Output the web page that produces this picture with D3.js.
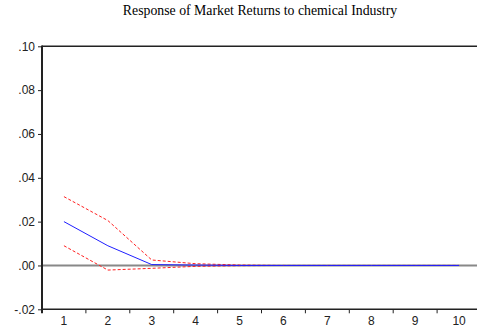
<!DOCTYPE html>
<html><head><meta charset="utf-8">
<script src="https://cdn.jsdelivr.net/npm/d3@7"></script>
<style>body{margin:0;background:#fff}svg{display:block}</style>
</head><body>
<svg id="c" width="477" height="335"></svg>
<script>
const periods = [1,2,3,4,5,6,7,8,9,10];
const response = [0.0200, 0.0090, 0.0004, 0.0002, 0.0000, 0.0000, 0.0000, 0.0000, 0.0000, 0.0000];
const upperBand = [0.0314, 0.0205, 0.0025, 0.0008, 0.0002, 0.0000, 0.0000, 0.0000, 0.0000, 0.0000];
const lowerBand = [0.0090, -0.0021, -0.0013, -0.0004, -0.0001, 0.0000, 0.0000, 0.0000, 0.0000, 0.0000];
const yTicks = [-0.02, 0.00, 0.02, 0.04, 0.06, 0.08, 0.10];
const yTickLabels = ["-.02", ".00", ".02", ".04", ".06", ".08", ".10"];
const title = "Response of Market Returns to chemical Industry";

(function(){
const svg = d3.select("#c");
const mL = 42, mR = 481, mT = 46.3, mB = 309.3;
const x = d3.scaleBand().domain(periods).range([mL, mR]);
const y = d3.scaleLinear().domain([-0.02, 0.10]).range([mB, mT]);
const cx = d => x(d) + x.bandwidth()/2;

svg.append("text").attr("x", 260).attr("y", 15).attr("text-anchor", "middle")
  .attr("font-family", "Liberation Serif, Times New Roman, serif").attr("font-size", 13.8)
  .attr("fill", "#000").text(title);

svg.append("line").attr("x1", mL).attr("x2", 477).attr("y1", y(0)).attr("y2", y(0))
  .attr("stroke", "#888").attr("stroke-width", 2);

svg.append("line").attr("x1", mL).attr("x2", 477).attr("y1", y(0.10)).attr("y2", y(0.10))
  .attr("stroke", "#222").attr("stroke-width", 1.5);

const yAxis = d3.axisLeft(y).tickValues(yTicks).tickFormat((d,i) => yTickLabels[i]).tickSize(4).tickPadding(3);
const ga = svg.append("g").attr("transform", `translate(${mL},0)`).call(yAxis);
ga.select(".domain").remove();
ga.selectAll("line").attr("stroke", "#222");
ga.selectAll("text").attr("font-family", "Liberation Sans, Arial, sans-serif").attr("font-size", 12).attr("fill", "#222");
svg.append("line").attr("x1", mL).attr("x2", mL).attr("y1", mT - 0.75).attr("y2", mB + 4)
  .attr("stroke", "#222").attr("stroke-width", 2);

const xAxis = d3.axisBottom(x).tickSize(0).tickPadding(7);
const gx = svg.append("g").attr("transform", `translate(0,${mB})`).call(xAxis);
gx.select(".domain").remove();
gx.selectAll("text").attr("font-family", "Liberation Sans, Arial, sans-serif").attr("font-size", 12).attr("fill", "#222");
svg.append("line").attr("x1", mL).attr("x2", 477).attr("y1", mB).attr("y2", mB)
  .attr("stroke", "#222").attr("stroke-width", 1.5);
svg.selectAll(".xb").data(periods.slice(1)).enter().append("line")
  .attr("x1", d => x(d)).attr("x2", d => x(d)).attr("y1", mB).attr("y2", mB + 4)
  .attr("stroke", "#222").attr("stroke-width", 1);

const line = d3.line().x((d,i) => cx(periods[i])).y(d => y(d));
svg.append("path").datum(upperBand).attr("d", line).attr("fill", "none")
  .attr("stroke", "#ff2020").attr("stroke-width", 1).attr("stroke-dasharray", "3,2");
svg.append("path").datum(lowerBand).attr("d", line).attr("fill", "none")
  .attr("stroke", "#ff2020").attr("stroke-width", 1).attr("stroke-dasharray", "3,2");
svg.append("path").datum(response).attr("d", line).attr("fill", "none")
  .attr("stroke", "#1f1fff").attr("stroke-width", 1);
})();
</script>
</body></html>
